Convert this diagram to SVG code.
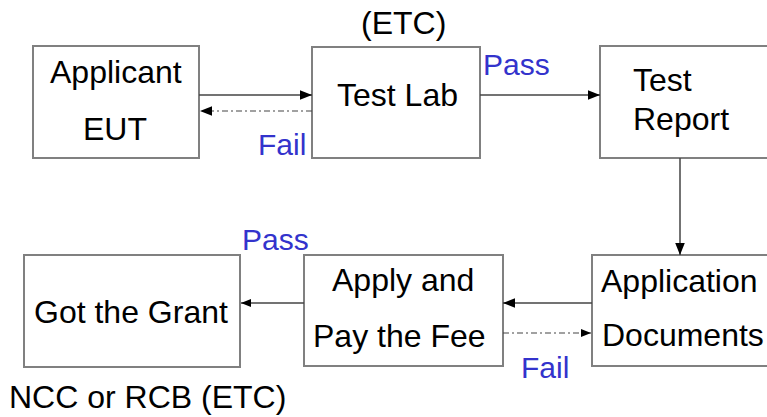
<svg xmlns="http://www.w3.org/2000/svg" width="767" height="417" viewBox="0 0 767 417">
<style>
.box{fill:#fff;stroke:#808080;stroke-width:2}
.t{font-family:"Liberation Sans",Arial,sans-serif;font-size:32px;fill:#000}
.b{font-family:"Liberation Sans",Arial,sans-serif;font-size:30px;fill:#3333cc}
.c{stroke:#444;stroke-width:1.5;fill:none}
.d{stroke:#444;stroke-width:1.2;fill:none;stroke-dasharray:6 3 2 3}
</style>
<defs>
<marker id="ah" viewBox="0 0 10 10" refX="10" refY="5" markerWidth="10" markerHeight="10" markerUnits="userSpaceOnUse" orient="auto">
<path d="M0,1 L10,5 L0,9 z" fill="#000"/>
</marker>
<marker id="ah2" viewBox="0 0 10 10" refX="10" refY="5" markerWidth="12" markerHeight="12" markerUnits="userSpaceOnUse" orient="auto">
<path d="M0,1 L10,5 L0,9 z" fill="#000"/>
</marker>
</defs>
<text class="t" x="361" y="34">(ETC)</text>
<g id="applicant">
<rect class="box" x="33" y="46" width="166" height="112"/>
<text class="t" x="50" y="83">Applicant</text>
<text class="t" x="83" y="140">EUT</text>
</g>
<g id="testlab">
<rect class="box" x="312" y="47" width="168" height="111"/>
<text class="t" x="337" y="106">Test Lab</text>
</g>
<g id="testreport">
<rect class="box" x="600" y="46" width="200" height="112"/>
<text class="t" x="633" y="91">Test</text>
<text class="t" x="633" y="130">Report</text>
</g>
<g id="grant">
<rect class="box" x="24" y="255" width="216" height="112"/>
<text class="t" x="34" y="323">Got the Grant</text>
</g>
<g id="apply">
<rect class="box" x="304" y="255" width="199" height="111"/>
<text class="t" x="332" y="291">Apply and</text>
<text class="t" x="313" y="347">Pay the Fee</text>
</g>
<g id="appdocs">
<rect class="box" x="592" y="255" width="200" height="111"/>
<text class="t" x="601" y="292">Application</text>
<text class="t" x="602" y="346">Documents</text>
</g>
<g id="connectors">
<line class="c" x1="199" y1="95" x2="312" y2="95" marker-end="url(#ah2)"/>
<line class="d" x1="312" y1="111" x2="200" y2="111" marker-end="url(#ah2)"/>
<line class="c" x1="480" y1="95" x2="600" y2="95" marker-end="url(#ah2)"/>
<line class="c" x1="680" y1="158" x2="680" y2="255" stroke="#808080" marker-end="url(#ah2)"/>
<line class="c" x1="592" y1="303" x2="503" y2="303" marker-end="url(#ah2)"/>
<line class="c" x1="304" y1="303" x2="241" y2="303" marker-end="url(#ah)"/>
<line class="d" x1="503" y1="333" x2="591" y2="333" marker-end="url(#ah)"/>
<text class="b" x="483" y="75">Pass</text>
<text class="b" x="258" y="155">Fail</text>
<text class="b" x="242" y="250">Pass</text>
<text class="b" x="521" y="378">Fail</text>
</g>
<text class="t" x="9" y="408">NCC or RCB (ETC)</text>
</svg>
